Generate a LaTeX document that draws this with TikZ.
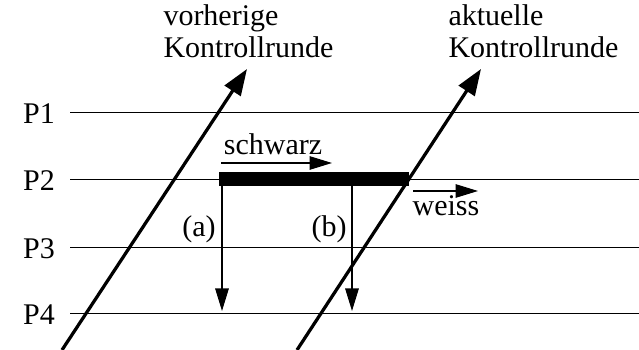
\documentclass[tikz,border=0pt]{standalone}
\usepackage{fontspec}
\setmainfont{Liberation Serif}
\usepackage{tikz}
\usetikzlibrary{arrows.meta}

\begin{document}
\begin{tikzpicture}[x=0.4pt,y=-0.4pt,
    lbl/.style={font=\fontsize{12}{12.8}\selectfont,inner sep=0pt},
    pline/.style={line width=0.4pt},
    runde/.style={line width=1.3pt,-{Triangle[length=10.5pt,width=7.5pt]}},
    pfeil/.style={line width=0.5pt,-{Triangle[length=9pt,width=5.4pt]}}]
  \useasboundingbox (0,0) rectangle (639,350);

  % prozesse
  \foreach \n/\y in {1/113,2/180,3/248,4/314}{
    \node[lbl,anchor=base] (p\n) at (39,\y+11) {P\n};
    \coordinate (a\n) at (70,\y);
    \coordinate (b\n) at (639,\y);
    \draw[pline] (a\n) -- (b\n);
  }

  % kontrollrunden
  \node[lbl,anchor=base west,align=left] (vor) at (163,58) {vorherige\\Kontrollrunde};
  \node[lbl,anchor=base west,align=left] (akt) at (448,58) {aktuelle\\Kontrollrunde};
  \coordinate (v0) at (62,350);
  \coordinate (v1) at (247,69);
  \coordinate (k0) at (297,350);
  \coordinate (k1) at (481,69);
  \draw[runde] (v0) -- (v1);
  \draw[runde] (k0) -- (k1);

  % schwarze phase
  \fill (219,172) rectangle (409,186);
  \coordinate (s0) at (221,163);
  \coordinate (s1) at (332,163);
  \draw[pfeil] (s0) -- (s1);
  \node[lbl,anchor=base] (schwarz) at (273,155) {schwarz};
  \coordinate (w0) at (413,191);
  \coordinate (w1) at (478,191);
  \draw[pfeil] (w0) -- (w1);
  \node[lbl,anchor=base] (weiss) at (446,216) {weiss};

  % nachrichten
  \coordinate (ma0) at (222,186);
  \coordinate (ma1) at (222,311);
  \coordinate (mb0) at (352,186);
  \coordinate (mb1) at (352,311);
  \draw[pfeil] (ma0) -- (ma1);
  \draw[pfeil] (mb0) -- (mb1);
  \node[lbl] (la) at (199,229) {(a)};
  \node[lbl] (lb) at (329,229) {(b)};
\end{tikzpicture}
\end{document}
